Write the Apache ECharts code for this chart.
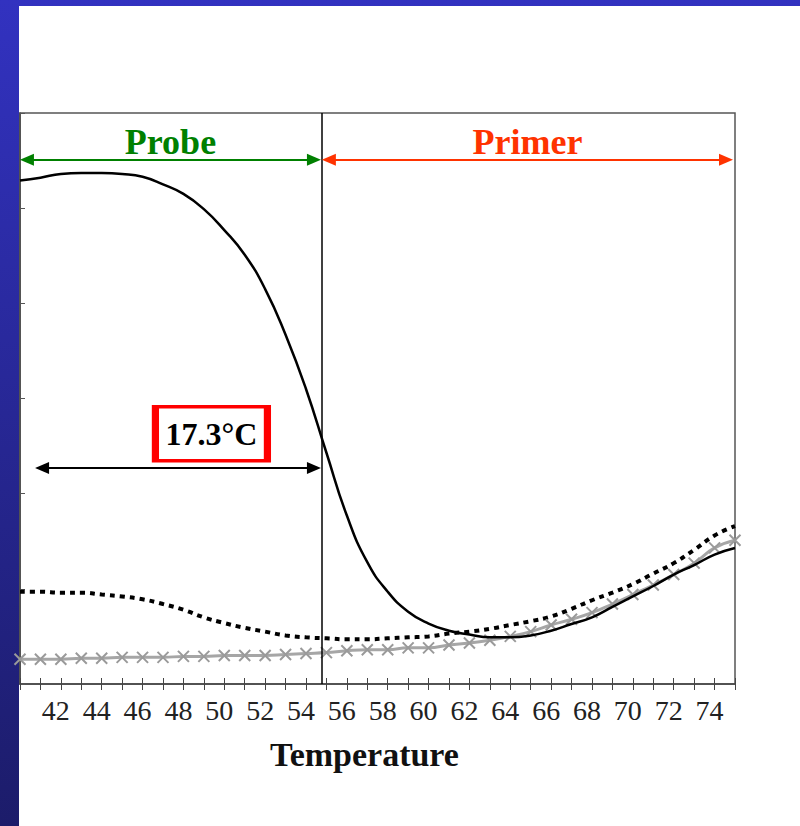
<!DOCTYPE html>
<html>
<head>
<meta charset="utf-8">
<title>Melting curves</title>
<script src="https://cdn.jsdelivr.net/npm/echarts@6/dist/echarts.min.js"></script>
<style>
	html, body { margin: 0; padding: 0; background: #fff; }
	#chartDiv { width: 800px; height: 826px; }
</style>
</head>
<body>
<div id="chartDiv"></div>
<script>
// temperature (°C) at each reading
var temps = [40, 41, 42, 43, 44, 45, 46, 47, 48, 49, 50, 51, 52, 53, 54, 55, 56, 57,
	58, 59, 60, 61, 62, 63, 64, 65, 66, 67, 68, 69, 70, 71, 72, 73, 74, 75];

// solid black curve
var probeCurve = [5.29, 5.32, 5.36, 5.37, 5.37, 5.36, 5.33, 5.25, 5.15, 4.99, 4.77, 4.51,
	4.15, 3.67, 3.10, 2.43, 1.77, 1.28, 0.97, 0.76, 0.635, 0.56, 0.52, 0.49,
	0.49, 0.51, 0.56, 0.63, 0.70, 0.81, 0.92, 1.03, 1.15, 1.25, 1.36, 1.43];

// dotted curve
var dottedCurve = [0.97, 0.97, 0.96, 0.96, 0.94, 0.92, 0.89, 0.84, 0.78, 0.70, 0.64, 0.59,
	0.55, 0.51, 0.49, 0.48, 0.47, 0.47, 0.48, 0.49, 0.50, 0.53, 0.55, 0.58,
	0.62, 0.66, 0.71, 0.79, 0.88, 0.96, 1.05, 1.16, 1.27, 1.41, 1.56, 1.66];

// grey curve with x markers
var greyCurve = [0.26, 0.26, 0.26, 0.27, 0.27, 0.28, 0.28, 0.28, 0.29, 0.29, 0.30, 0.30,
	0.30, 0.31, 0.32, 0.33, 0.35, 0.36, 0.36, 0.38, 0.38, 0.41, 0.43, 0.46,
	0.50, 0.55, 0.62, 0.68, 0.75, 0.84, 0.94, 1.04, 1.15, 1.27, 1.43, 1.51];

var xTickLabels = [42, 44, 46, 48, 50, 52, 54, 56, 58, 60, 62, 64, 66, 68, 70, 72, 74];

var splitTemp = 54.77;
var deltaText = '17.3°C';

var SERIF = '"Liberation Serif", "DejaVu Serif", serif';

function pairs(ys) {
	var res = [];
	for (var i = 0; i < temps.length; i++) {
		res.push([temps[i], ys[i]]);
	}
	return res;
}

function arrowLine(x1, x2, y, color, text) {
	return [
		{
			coord: [x1, y],
			symbol: 'triangle',
			lineStyle: { color: color, width: 2, type: 'solid' },
			itemStyle: { color: color },
			label: text ? {
				show: true,
				position: 'middle',
				formatter: text,
				color: color,
				fontFamily: SERIF,
				fontWeight: 'bold',
				fontSize: 36,
				distance: 0
			} : { show: false }
		},
		{ coord: [x2, y], symbol: 'triangle' }
	];
}

var chart = echarts.init(document.getElementById('chartDiv'), null, { renderer: 'svg' });

var option = {
	animation: false,
	backgroundColor: {
		type: 'linear', x: 0, y: 0, x2: 0, y2: 1,
		colorStops: [
			{ offset: 0, color: '#3232c0' },
			{ offset: 1, color: '#1c1c6a' }
		]
	},
	graphic: [
		{
			type: 'rect',
			left: 19,
			top: 6,
			z: -100,
			silent: true,
			shape: { width: 781, height: 820 },
			style: { fill: '#ffffff' }
		}
	],
	grid: {
		left: 20,
		right: 65,
		top: 113,
		bottom: 142,
		show: true,
		borderColor: '#555',
		borderWidth: 1.5,
		backgroundColor: 'transparent'
	},
	xAxis: [
		{
			type: 'value',
			min: 40,
			max: 75,
			interval: 1,
			name: 'Temperature',
			nameLocation: 'middle',
			nameGap: 53,
			nameTextStyle: {
				fontFamily: SERIF,
				fontWeight: 'bold',
				fontSize: 34,
				color: '#111',
				padding: [0, 26, 0, 0]
			},
			axisLine: { lineStyle: { color: '#444', width: 1.5 } },
			axisTick: { show: true, inside: false, length: 6, lineStyle: { color: '#444', width: 1 } },
			axisLabel: {
				margin: 12,
				fontFamily: SERIF,
				fontSize: 28,
				color: '#222',
				padding: [0, 10, 0, 0],
				formatter: function (v) {
					return xTickLabels.indexOf(v) >= 0 ? String(v) : '';
				}
			},
			splitLine: { show: false }
		},
		{
			type: 'value',
			position: 'bottom',
			min: 40,
			max: 75,
			interval: 1,
			axisLine: { show: false },
			axisTick: { show: true, inside: true, length: 6, lineStyle: { color: '#444', width: 1 } },
			axisLabel: { show: false },
			splitLine: { show: false }
		}
	],
	yAxis: {
		type: 'value',
		min: 0,
		max: 6,
		interval: 1,
		axisLine: { show: true, lineStyle: { color: '#444', width: 1.5 } },
		axisTick: { show: true, inside: true, length: 5, lineStyle: { color: '#555' } },
		axisLabel: { show: false },
		splitLine: { show: false }
	},
	series: [
		{
			name: 'dotted',
			type: 'line',
			data: pairs(dottedCurve),
			smooth: 0.5,
			showSymbol: false,
			lineStyle: { color: '#000', width: 4, type: [5, 5], cap: 'butt' },
			z: 2
		},
		{
			name: 'grey',
			type: 'line',
			data: pairs(greyCurve),
			smooth: 0.5,
			showSymbol: true,
			symbol: 'path://M0,0L10,10M10,0L0,10',
			symbolSize: 11,
			itemStyle: { color: '#9a9a9a', borderColor: '#9a9a9a', borderWidth: 2 },
			lineStyle: { color: '#a6a6a6', width: 3 },
			z: 3
		},
		{
			name: 'probe',
			type: 'line',
			data: pairs(probeCurve),
			smooth: 0.5,
			showSymbol: false,
			lineStyle: { color: '#000', width: 2.5 },
			z: 4,
			markLine: {
				silent: true,
				animation: false,
				symbolSize: [12, 14],
				data: [
					[
						{ coord: [splitTemp, 0], symbol: 'none', lineStyle: { color: '#000', width: 1.5, type: 'solid' }, label: { show: false } },
						{ coord: [splitTemp, 6], symbol: 'none' }
					],
					arrowLine(40.34, 54.39, 5.51, '#008000', 'Probe'),
					arrowLine(55.12, 74.56, 5.51, '#ff3300', 'Primer'),
					arrowLine(41.08, 54.39, 2.27, '#000000', null)
				]
			},
			markPoint: {
				silent: true,
				animation: false,
				data: [
					{
						coord: [49.37, 2.63],
						symbol: 'rect',
						symbolSize: [112, 54],
						itemStyle: { color: '#ffffff', borderColor: '#ff0000', borderWidth: 5 },
						label: {
							show: true,
							position: 'inside',
							formatter: deltaText,
							color: '#000',
							fontFamily: SERIF,
							fontWeight: 'bold',
							fontSize: 32
						}
					}
				]
			}
		}
	]
};

chart.setOption(option, true);
</script>
</body>
</html>
